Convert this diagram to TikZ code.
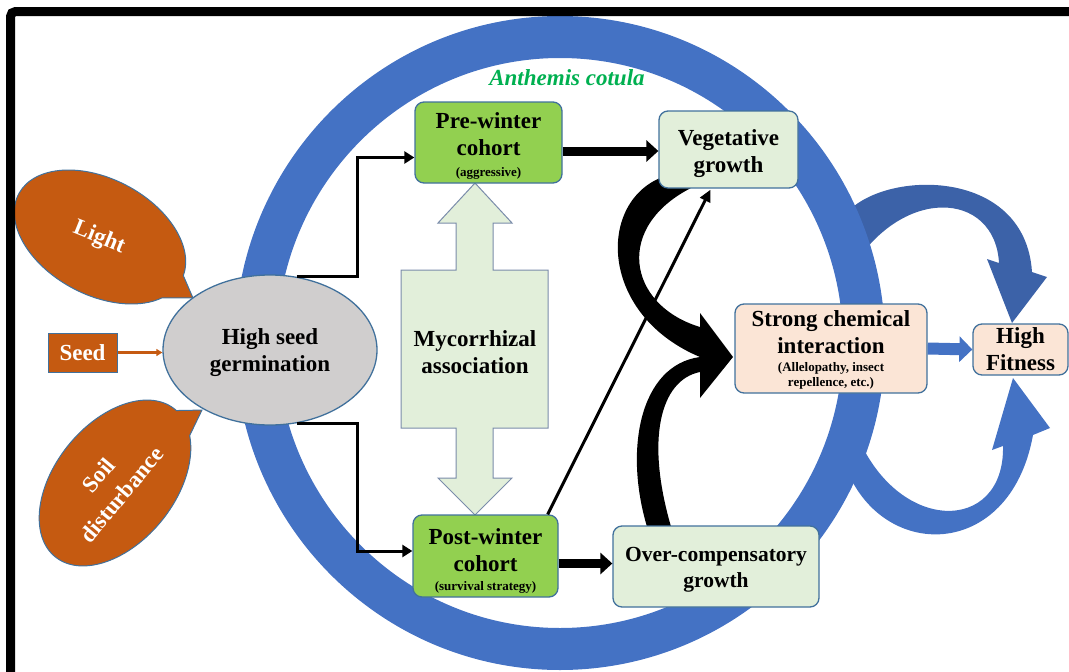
\documentclass[tikz,border=0pt]{standalone}
\usepackage{fontspec}
\setmainfont{Liberation Serif}
\usetikzlibrary{arrows.meta,calc,shapes.geometric}
\definecolor{ringblue}{HTML}{4472C4}
\definecolor{darkblue}{HTML}{3C62A8}
\definecolor{bord}{HTML}{41719C}
\definecolor{mycb}{HTML}{7A8CAA}
\definecolor{prewin}{HTML}{92D050}
\definecolor{lgreen}{HTML}{E2EFDA}
\definecolor{peach}{HTML}{FBE5D6}
\definecolor{grayell}{HTML}{D0CECE}
\definecolor{orng}{HTML}{C55A11}
\definecolor{antgreen}{HTML}{00B050}
\newcommand\bigf{\fontsize{23}{27}\selectfont\bfseries}
\newcommand\ovf{\fontsize{21.5}{26}\selectfont\bfseries}
\newcommand\smf{\fontsize{13}{14}\selectfont\bfseries}
\newcommand\antf{\fontsize{23}{27}\selectfont\bfseries\itshape}
\newcommand\lift[1]{\rule{0pt}{#1}}
\begin{document}
\begin{tikzpicture}[x=1pt,y=-1pt,
  nbox/.style={draw=bord, line width=1.3pt, rounded corners=9pt, align=center, inner sep=0pt, font=\bigf, text=black},
  gbox/.style={nbox, fill=prewin},
  lbox/.style={nbox, fill=lgreen},
  pbox/.style={nbox, fill=peach},
  elbow/.style={line width=3pt, -{Triangle[width=12pt,length=10pt]}},
  fat/.style={line width=9pt, -{Triangle[width=21pt,length=12pt]}},
  thinarr/.style={line width=3pt, -{Triangle[width=11pt,length=12pt]}},
  bluearr/.style={ringblue, line width=12pt, -{Triangle[width=25pt,length=13pt]}},
  seedarr/.style={orng, line width=3.5pt, -{Triangle[width=7pt,length=6pt]}},
  callout/.style={fill=orng, draw=bord, line width=1pt}
]
\useasboundingbox (0,0) rectangle (1069,672);

% right curved arrows (behind ring)
\fill[darkblue] (845,215) .. controls (880,170) and (1025,165) .. (1032,272)
  -- (1047,277) -- (1012,323) -- (987,259) -- (999,263)
  .. controls (995,190) and (900,185) .. (850,272) -- cycle;
\fill[ringblue] (845,465) .. controls (880,562) and (1010,562) .. (1033,435)
  -- (1050,428) -- (1013,378) -- (992,450) -- (1003,446)
  .. controls (1005,535) and (895,535) .. (855,430) -- cycle;

% big ring
\draw[ringblue, line width=42pt] (560,343) ellipse [x radius=304pt, y radius=306pt];

% black curved arrows
\fill (660,178) .. controls (597,205) and (600,315) .. (700,357) -- (700,327)
  .. controls (627,305) and (613,225) .. (695,186) -- cycle;
\fill (648,530) .. controls (623,450) and (640,365) .. (700,357) -- (700,372)
  .. controls (660,380) and (645,440) .. (672,530) -- cycle;
\fill (700,313) -- (733,357) -- (700,398) -- cycle;

% callouts
\begin{scope}[shift={(100,237)}, rotate=-28]
  \filldraw[callout] (5:92pt and 58pt) arc[start angle=5, end angle=335, x radius=92pt, y radius=58pt]
    -- (110.7pt,-10.2pt) -- cycle;
\end{scope}
\begin{scope}[shift={(115,483)}, rotate=51]
  \filldraw[callout] (-2:95pt and 60pt) arc[start angle=-2, end angle=332, x radius=95pt, y radius=60pt]
    -- (111.4pt,-21.7pt) -- cycle;
\end{scope}
\node[font=\bigf, text=white, rotate=-22] (light) at (99,238) {Light};
\node[font=\bigf, text=white, rotate=50, align=center] (soil) at (110,485) {Soil\\[3pt]disturbance};

% mycorrhizal double arrow
\filldraw[fill=lgreen, draw=mycb, line width=1pt] (475,183) -- (512,223) -- (493,223) -- (493,270)
  -- (548,270) -- (548,428) -- (493,428) -- (493,478) -- (512,478) -- (475,515) -- (438,478)
  -- (456,478) -- (456,428) -- (401,428) -- (401,270) -- (456,270) -- (456,223) -- (438,223) -- cycle;
\node[font=\bigf, align=center] (myc) at (475,352) {Mycorrhizal\\association};

% nodes
\node[gbox, minimum width=147pt, minimum height=81pt] (pre) at (488.5,142.5) {\lift{23.5pt}Pre-winter\\cohort\\[-6pt]{\smf (aggressive)}};
\node[lbox, minimum width=139pt, minimum height=77pt] (veg) at (728.5,149.5) {\lift{25pt}Vegetative\\growth};
\node[gbox, minimum width=145pt, minimum height=82pt] (post) at (485.5,556) {\lift{25pt}Post-winter\\cohort\\[-8pt]{\smf (survival strategy)}};
\node[lbox, minimum width=206pt, minimum height=81pt, font=\ovf] (over) at (716,566.5) {\lift{21pt}Over-compensatory\\growth};
\node[pbox, minimum width=192pt, minimum height=89pt] (chem) at (831,348.5) {\lift{19.5pt}Strong chemical\\interaction\\[-9pt]{\smf (Allelopathy, insect}\\[-12pt]{\smf repellence, etc.)}};
\node[pbox, minimum width=95pt, minimum height=51pt] (fit) at (1020.5,349.5) {High\\Fitness};
\node[ellipse, draw=bord, fill=grayell, line width=1.3pt, minimum width=214pt, minimum height=150pt, align=center, font=\bigf, inner sep=0pt] (germ) at (270,350) {\lift{21pt}High seed\\germination};
\node[fill=orng, draw=bord, line width=1pt, minimum width=69pt, minimum height=39pt, inner sep=0pt, font=\bigf, text=white] (seed) at (82.5,352.5) {Seed};
\node[font=\antf, text=antgreen] (ac) at (567,78) {Anthemis cotula};

% connectors
\coordinate (ex) at (357,0);
\coordinate (pin) at ($(pre.west)+(0,15)$);
\coordinate (qin) at ($(post.west)+(0,-5)$);
\draw[elbow] (germ.70) -- (germ.70 -| ex) |- (pin);
\draw[elbow] (germ.-70) -- (germ.-70 -| ex) |- (qin);
\coordinate (vin) at ($(veg.west)+(0,1.5)$);
\draw[fat] (pre.east |- vin) -- (vin);
\coordinate (oin) at ($(over.west)+(0,-3)$);
\draw[fat] (post.east |- oin) -- (oin);
\draw[thinarr] ($(post.north east)+(-11,0)$) -- ($(veg.south)+(-18,1)$);
\draw[bluearr] (chem.east) -- (fit.west);
\draw[seedarr] (seed.east) -- (seed.east -| germ.west);

% frame
\draw[line width=9pt, rounded corners=5pt] (10.5,700) |- (1100,11.5);
\end{tikzpicture}
\end{document}
